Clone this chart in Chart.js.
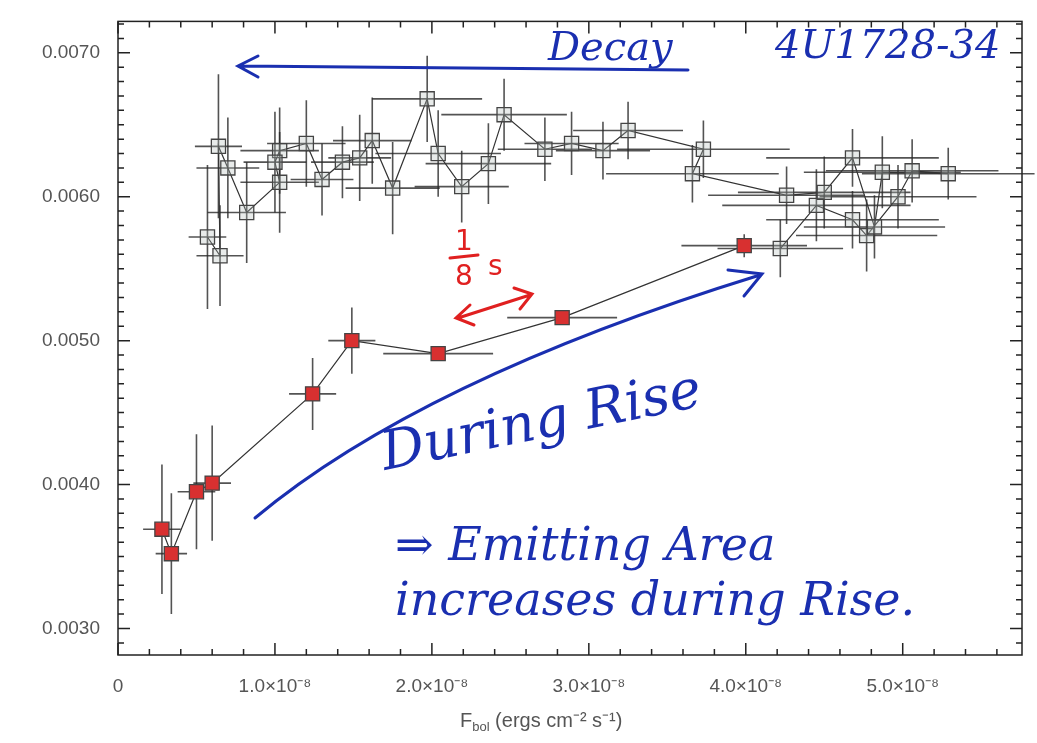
<!DOCTYPE html>
<html lang="en">
<head>
<meta charset="UTF-8" />
<title>4U1728-34 Fbol vs normalisation</title>
<script src="https://cdn.jsdelivr.net/npm/chart.js@4.4.1/dist/chart.umd.min.js"></script>
<style>
html,body{margin:0;padding:0;background:#fff;overflow:hidden}
canvas{display:block}
</style>
</head>
<body>
<canvas id="c" width="1037" height="743"></canvas>
<script>
/* ── data (x in units of 1e-8 ergs cm^-2 s^-1) ───────────────── */
const riseX    = [0.28,0.34,0.50,0.60,1.24,1.49,2.04,2.83,3.99];
const riseY    = [0.00369,0.00352,0.00395,0.00401,0.00463,0.00500,0.00491,0.00516,0.00566];
const riseXErr = [0.12,0.10,0.12,0.12,0.15,0.15,0.35,0.35,0.40];
const riseYErr = [0.00045,0.00042,0.00040,0.00040,0.00025,0.00023,0.00005,0.00005,0.00008];

const decayX    = [4.22,4.45,4.68,4.77,4.97,5.06,5.29,4.87,4.82,4.68,4.50,4.26,3.66,3.73,3.25,3.09,2.89,2.72,2.46,2.36,2.19,2.04,1.97,1.75,1.62,1.54,1.43,1.30,1.20,1.03,1.00,1.03,0.82,0.70,0.64,0.65,0.57];
const decayY    = [0.00564,0.00594,0.00584,0.00573,0.00600,0.00618,0.00616,0.00617,0.00579,0.00627,0.00603,0.00601,0.00616,0.00633,0.00646,0.00632,0.00637,0.00633,0.00657,0.00623,0.00607,0.00630,0.00668,0.00606,0.00639,0.00627,0.00624,0.00612,0.00637,0.00632,0.00624,0.00610,0.00589,0.00620,0.00635,0.00559,0.00572];
const decayXErr = [0.40,0.60,0.55,0.45,0.50,0.55,0.55,0.50,0.45,0.55,0.55,0.50,0.55,0.55,0.35,0.30,0.30,0.30,0.40,0.40,0.30,0.40,0.35,0.30,0.25,0.20,0.20,0.20,0.25,0.25,0.20,0.25,0.25,0.20,0.15,0.15,0.12];
const decayYErr = [0.00020,0.00025,0.00020,0.00025,0.00022,0.00022,0.00018,0.00025,0.00022,0.00020,0.00025,0.00020,0.00020,0.00020,0.00020,0.00020,0.00022,0.00022,0.00025,0.00028,0.00025,0.00030,0.00030,0.00032,0.00030,0.00030,0.00025,0.00025,0.00030,0.00030,0.00035,0.00035,0.00035,0.00035,0.00050,0.00035,0.00050];

const xTicks = [0,1,2,3,4,5];
const yTicks = [0.0030,0.0040,0.0050,0.0060,0.0070];

const pts = (xs,ys) => xs.map((x,i)=>({x,y:ys[i]}));

/* ── error bars, frame ticks and handwritten notes ───────────── */
const extras = {
  id:'extras',
  beforeDatasetsDraw(chart){
    const {ctx,scales:{x,y}} = chart;
    const sets = [[decayX,decayY,decayXErr,decayYErr],[riseX,riseY,riseXErr,riseYErr]];
    ctx.save();
    ctx.strokeStyle='rgba(40,40,40,0.8)';ctx.lineWidth=1.6;
    sets.forEach(([xs,ys,xe,ye])=>xs.forEach((v,i)=>{
      ctx.beginPath();
      ctx.moveTo(x.getPixelForValue(v-xe[i]),y.getPixelForValue(ys[i]));
      ctx.lineTo(x.getPixelForValue(v+xe[i]),y.getPixelForValue(ys[i]));
      ctx.moveTo(x.getPixelForValue(v),y.getPixelForValue(ys[i]-ye[i]));
      ctx.lineTo(x.getPixelForValue(v),y.getPixelForValue(ys[i]+ye[i]));
      ctx.stroke();
    }));
    ctx.restore();
  },
  afterDraw(chart){
    const {ctx,chartArea:a,scales:{x,y}} = chart;
    ctx.save();
    ctx.strokeStyle='#222';ctx.lineWidth=1.5;
    ctx.strokeRect(a.left,a.top,a.right-a.left,a.bottom-a.top);
    ctx.beginPath();
    for(let i=0;i<=28;i++){
      const v=i*0.2, px=x.getPixelForValue(v), L=i%5===0?12:6;
      ctx.moveTo(px,a.bottom);ctx.lineTo(px,a.bottom-L);
      ctx.moveTo(px,a.top);ctx.lineTo(px,a.top+L);
    }
    for(let i=29;i<=72;i++){
      const py=y.getPixelForValue(i/10000), L=i%10===0?12:6;
      ctx.moveTo(a.left,py);ctx.lineTo(a.left+L,py);
      ctx.moveTo(a.right,py);ctx.lineTo(a.right-L,py);
    }
    ctx.stroke();

    // axis title with subscript
    ctx.fillStyle='#555';ctx.textBaseline='alphabetic';
    ctx.font='20px "Liberation Sans"';
    let tx=460, ty=727;
    ctx.fillText('F',tx,ty); tx+=ctx.measureText('F').width;
    ctx.font='13px "Liberation Sans"';ctx.fillText('bol',tx,ty+4); tx+=ctx.measureText('bol').width;
    ctx.font='20px "Liberation Sans"';ctx.fillText(' (ergs cm\u207B\u00B2 s\u207B\u00B9)',tx,ty);

    // handwritten annotations
    const blue='#1a2fb0', red='#e02020';
    ctx.lineCap='round';
    ctx.strokeStyle=blue;ctx.lineWidth=3;
    ctx.beginPath();ctx.moveTo(688,70);ctx.lineTo(240,66);
    ctx.moveTo(258,56);ctx.lineTo(238,66);ctx.lineTo(258,77);ctx.stroke();
    ctx.beginPath();ctx.moveTo(255,518);ctx.quadraticCurveTo(420,380,760,275);
    ctx.moveTo(728,270);ctx.lineTo(762,274);ctx.lineTo(744,296);ctx.stroke();
    ctx.fillStyle=blue;
    ctx.font='italic 40px "DejaVu Serif"';
    ctx.fillText('Decay',548,60);
    ctx.fillText('4U1728-34',775,58);
    ctx.save();ctx.translate(385,470);ctx.rotate(-0.2);
    ctx.font='italic 54px "DejaVu Serif"';ctx.fillText('During Rise',0,0);ctx.restore();
    ctx.font='italic 46px "DejaVu Serif"';
    ctx.fillText('\u21D2 Emitting Area',395,560);
    ctx.fillText('increases during Rise.',395,615);
    ctx.strokeStyle=red;ctx.fillStyle=red;ctx.lineWidth=3;
    ctx.beginPath();ctx.moveTo(458,318);ctx.lineTo(530,295);
    ctx.moveTo(470,305);ctx.lineTo(456,318);ctx.lineTo(474,325);
    ctx.moveTo(514,288);ctx.lineTo(532,294);ctx.lineTo(520,309);ctx.stroke();
    ctx.font='28px "DejaVu Sans"';
    ctx.fillText('1',455,250);ctx.fillText('8',455,285);ctx.fillText('s',488,275);
    ctx.beginPath();ctx.moveTo(450,258);ctx.lineTo(478,255);ctx.stroke();
    ctx.restore();
  }
};

new Chart(document.getElementById('c'),{
  type:'scatter',
  data:{datasets:[
    {label:'Decay',data:pts(decayX,decayY),showLine:true,borderColor:'#333',borderWidth:1.2,
     pointStyle:'rect',pointRadius:10,pointBorderWidth:1.3,pointBorderColor:'#444',pointBackgroundColor:'rgba(180,190,185,0.3)'},
    {label:'Rise',data:pts(riseX,riseY),showLine:true,borderColor:'#333',borderWidth:1.2,
     pointStyle:'rect',pointRadius:10,pointBorderWidth:1.3,pointBorderColor:'#444',pointBackgroundColor:'#d83030'}
  ]},
  options:{
    responsive:false,animation:false,devicePixelRatio:1,
    layout:{padding:{top:8,right:15,left:0,bottom:0}},
    plugins:{legend:{display:false},tooltip:{enabled:false}},
    scales:{
      x:{type:'linear',min:0,max:5.76,
        afterBuildTicks:s=>{s.ticks=xTicks.map(v=>({value:v}));},
        afterFit:s=>{s.height=88;},
        grid:{display:false},border:{display:false},
        ticks:{color:'#555',font:{size:19,family:'Liberation Sans'},padding:12,maxRotation:0,
          callback:v=>v===0?'0':v.toFixed(1)+'\u00D710\u207B\u2078'}},
      y:{type:'linear',min:0.002816,max:0.007218,
        afterBuildTicks:s=>{s.ticks=yTicks.map(v=>({value:v}));},
        afterFit:s=>{s.width=118;},
        grid:{display:false},border:{display:false},
        ticks:{color:'#555',font:{size:19,family:'Liberation Sans'},padding:10,callback:v=>v.toFixed(4)}}
    }
  },
  plugins:[extras]
});
</script>
</body>
</html>
